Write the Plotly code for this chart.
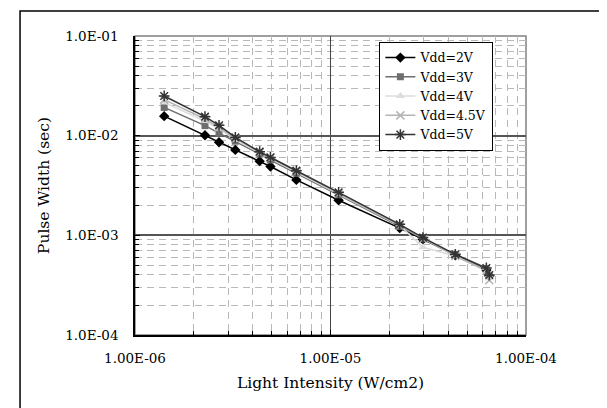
import plotly.graph_objects as go

light_intensity = [1.41e-6, 2.28e-6, 2.69e-6, 3.26e-6, 4.34e-6, 4.93e-6, 6.69e-6,
                   1.10e-5, 2.26e-5, 2.97e-5, 4.35e-5, 6.27e-5, 6.49e-5]

vdd_2v = [1.57e-2, 1.01e-2, 8.6e-3, 7.2e-3, 5.55e-3, 4.9e-3, 3.6e-3,
          2.25e-3, 1.18e-3, 9.1e-4, 6.3e-4, 4.5e-4, 3.9e-4]
vdd_3v = [1.92e-2, 1.26e-2, 1.06e-2, 8.8e-3, 6.55e-3, 5.7e-3, 4.2e-3,
          2.55e-3, 1.23e-3, 9.25e-4, 6.3e-4, 4.5e-4, 3.9e-4]
vdd_4v = [2.15e-2, 1.4e-2, 1.17e-2, 9.1e-3, 6.7e-3, 5.9e-3, 4.3e-3,
          2.6e-3, 1.26e-3, 7.6e-4, 6.2e-4, 4.4e-4, 3.7e-4]
vdd_45v = [2.3e-2, 1.47e-2, 1.21e-2, 9.4e-3, 6.8e-3, 6.0e-3, 4.4e-3,
           2.63e-3, 1.26e-3, 9.3e-4, 6.2e-4, 4.4e-4, 3.55e-4]
vdd_5v = [2.5e-2, 1.55e-2, 1.27e-2, 9.6e-3, 6.9e-3, 6.05e-3, 4.45e-3,
          2.7e-3, 1.29e-3, 9.5e-4, 6.45e-4, 4.7e-4, 4.0e-4]

series_names = ["Vdd=2V", "Vdd=3V", "Vdd=4V", "Vdd=4.5V", "Vdd=5V"]
series_values = [vdd_2v, vdd_3v, vdd_4v, vdd_45v, vdd_5v]

y_tickvals = [1e-4, 1e-3, 1e-2, 1e-1]
y_ticktext = ["1.0E-04", "1.0E-03", "1.0E-02", "1.0E-01"]
x_tickvals = [1e-6, 1e-5, 1e-4]
x_ticktext = ["1.00E-06", "1.00E-05", "1.00E-04"]

styles = [
    dict(color="#000000", symbol="diamond", size=8, mline=None),
    dict(color="#6e6e6e", symbol="square", size=7, mline=None),
    dict(color="#dcdcdc", symbol="triangle-up", size=8, mline=None),
    dict(color="#b4b4b4", symbol="x-thin-open", size=8, mline=1.5),
    dict(color="#333333", symbol="asterisk-open", size=9, mline=1.5),
]

fig = go.Figure()
for name, vals, st in zip(series_names, series_values, styles):
    marker = dict(color=st["color"], symbol=st["symbol"], size=st["size"])
    if st["mline"]:
        marker["line"] = dict(color=st["color"], width=st["mline"])
    fig.add_trace(go.Scatter(
        x=light_intensity, y=vals, name=name, mode="lines+markers",
        line=dict(color=st["color"], width=1.5), marker=marker,
    ))

font_family = "DejaVu Serif"

fig.update_layout(
    width=607, height=408,
    margin=dict(l=127, r=89, t=28, b=81),
    paper_bgcolor="white", plot_bgcolor="white",
    font=dict(family=font_family, size=13.5, color="black"),
    showlegend=True,
    legend=dict(
        x=0.625, y=0.98, xanchor="left", yanchor="top",
        bordercolor="black", borderwidth=1, bgcolor="white",
        font=dict(family=font_family, size=12.5, color="black"),
        tracegroupgap=0, itemwidth=30,
    ),
    xaxis=dict(
        type="log", range=[-6, -4], automargin=False,
        tickvals=x_tickvals, ticktext=x_ticktext,
        tickfont=dict(family=font_family, size=13.5),
        ticks="inside", ticklen=5, tickcolor="black",
        showline=True, linecolor="black", linewidth=1.5,
        showgrid=True, gridcolor="#444444", gridwidth=1,
        ticklabelstandoff=10,
        minor=dict(dtick="D1", ticks="inside", ticklen=4, tickcolor="black",
                   showgrid=True, gridcolor="#b8b8b8", gridwidth=1,
                   griddash="7px,5px"),
        title=dict(text="Light Intensity (W/cm2)",
                   font=dict(family=font_family, size=15.5), standoff=12),
        zeroline=False,
    ),
    yaxis=dict(
        type="log", range=[-4, -1], automargin=False,
        tickvals=y_tickvals, ticktext=y_ticktext,
        tickfont=dict(family=font_family, size=13.5),
        ticks="inside", ticklen=5, tickcolor="black",
        showline=True, linecolor="black", linewidth=1.5,
        showgrid=True, gridcolor="#555555", gridwidth=1.5,
        ticklabelstandoff=12,
        minor=dict(dtick="D1", ticks="inside", ticklen=4, tickcolor="black",
                   showgrid=True, gridcolor="#b8b8b8", gridwidth=1,
                   griddash="7px,5px"),
        title=dict(text="Pulse Width (sec)",
                   font=dict(family=font_family, size=15.5), standoff=12),
        zeroline=False,
    ),
    shapes=[
        dict(type="rect", xref="paper", yref="paper", x0=0, x1=1, y0=0, y1=1,
             line=dict(color="#808080", width=1.5), layer="below"),
        dict(type="rect", xref="paper", yref="paper",
             x0=-0.294, x1=1.217, y0=-0.261, y1=1.084,
             line=dict(color="black", width=1.5)),
    ],
)

fig.write_html("out.html")
